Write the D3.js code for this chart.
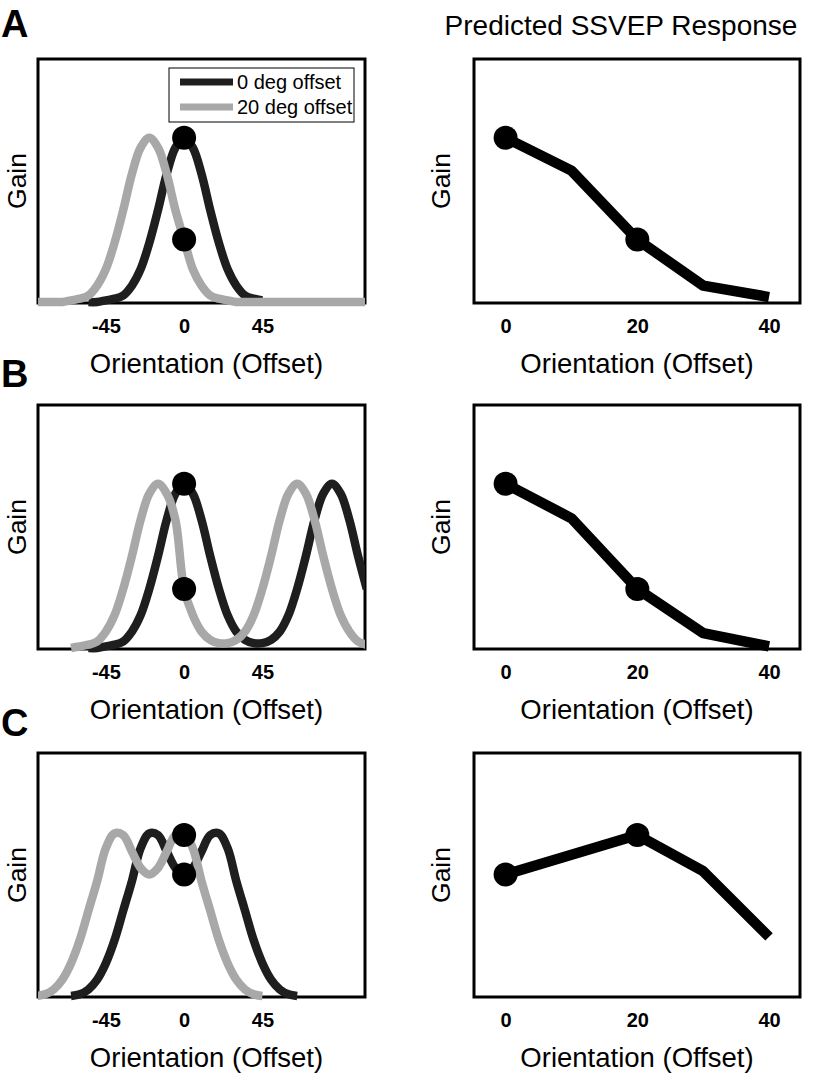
<!DOCTYPE html>
<html>
<head>
<meta charset="utf-8">
<script src="https://cdn.jsdelivr.net/npm/d3@7"></script>
<style>
  body { margin: 0; background: #fff; }
  svg { display: block; font-family: "Liberation Sans", Arial, Helvetica, sans-serif; }
</style>
</head>
<body>
<div id="chart"></div>
<script>
// orientation samples (deg) for the tuning curves
const orientations = [-85, -80, -75, -70, -65, -60, -55, -50, -45, -40, -35, -30, -25, -20, -15, -10, -5,
  0, 5, 10, 15, 20, 25, 30, 35, 40, 45, 50, 55, 60, 65, 70, 75, 80, 85, 90, 95, 100, 105];

// panel A: single peak
const gainA0 = [null, null, null, null, null, null, 0, 0, 0.01, 0.02, 0.04, 0.10, 0.20, 0.36, 0.56, 0.78, 0.94,
  1.00, 0.94, 0.78, 0.56, 0.36, 0.20, 0.10, 0.04, 0.02, 0.01, null, null, null, null, null, null, null, null, null, null, null, null];
const gainA20 = [0, 0, 0, 0, 0.01, 0.02, 0.04, 0.10, 0.20, 0.36, 0.56, 0.78, 0.94, 1.00, 0.94, 0.78, 0.56,
  0.38, 0.20, 0.10, 0.04, 0.02, 0.01, 0, 0, 0, 0, 0, 0, 0, 0, 0, 0, 0, 0, 0, 0, 0, 0];

// panel B: two peaks
const gainB0 = [null, null, null, null, null, null, 0, 0, 0.01, 0.02, 0.04, 0.10, 0.20, 0.36, 0.56, 0.78, 0.94,
  1.00, 0.94, 0.78, 0.56, 0.36, 0.20, 0.10, 0.05, 0.03, 0.03, 0.05, 0.10, 0.20, 0.36, 0.56, 0.78, 0.94, 1.00, 0.94, 0.78, 0.56, 0.36];
const gainB20 = [null, null, null, null, 0, 0.01, 0.02, 0.04, 0.10, 0.20, 0.36, 0.56, 0.78, 0.94, 1.00, 0.94, 0.78,
  0.36, 0.20, 0.10, 0.05, 0.03, 0.03, 0.05, 0.10, 0.20, 0.36, 0.56, 0.78, 0.94, 1.00, 0.94, 0.78, 0.56, 0.36, 0.20, 0.10, 0.04, 0.02];

// panel C: broad double-humped
const gainC0 = [null, null, null, null, 0, 0.01, 0.04, 0.10, 0.20, 0.34, 0.52, 0.70, 0.90, 0.99, 0.98, 0.88, 0.78,
  0.74, 0.78, 0.88, 0.98, 0.99, 0.90, 0.70, 0.52, 0.34, 0.20, 0.10, 0.04, 0.01, 0, null, null, null, null, null, null, null, null];
const gainC20 = [0, 0.01, 0.04, 0.10, 0.20, 0.34, 0.52, 0.70, 0.90, 0.99, 0.98, 0.88, 0.78, 0.74, 0.78, 0.88, 0.98,
  0.99, 0.90, 0.70, 0.52, 0.34, 0.20, 0.10, 0.04, 0.01, 0, null, null, null, null, null, null, null, null, null, null, null, null];

// predicted SSVEP response vs offset
const offsets = [0, 10, 20, 30, 40];
const respA = [1.00, 0.80, 0.38, 0.10, 0.03];
const respB = [1.00, 0.79, 0.36, 0.09, 0.01];
const respC = [0.74, 0.86, 0.98, 0.76, 0.36];
const dotOffsets = [0, 20];

const leftTicks = [-45, 0, 45];
const rightTicks = [0, 20, 40];
const legendLabels = ["0 deg offset", "20 deg offset"];

const panels = [
  { letter: "A", top: 59, g0: gainA0, g20: gainA20, resp: respA, legend: true },
  { letter: "B", top: 405, g0: gainB0, g20: gainB20, resp: respB, legend: false },
  { letter: "C", top: 753, g0: gainC0, g20: gainC20, resp: respC, legend: false },
];
const letterBase = [37, 387, 736];

const width = 815, height = 1074;
const frameH = 244;
const L = { x0: 38, x1: 365 };
const R = { x0: 474, x1: 800 };
const darkCol = "#1e1e1e", grayCol = "#a8a8a8";

const svg = d3.select("#chart").append("svg").attr("width", width).attr("height", height);

svg.append("text")
  .attr("x", 621).attr("y", 35)
  .attr("text-anchor", "middle")
  .style("font-size", "28px")
  .text("Predicted SSVEP Response");

const xL = d3.scaleLinear([-84, 104], [L.x0, L.x1]);
const xR = d3.scaleLinear([-4.8, 44.7], [R.x0, R.x1]);

function styleAxis(ax) {
  ax.select(".domain").remove();
  ax.selectAll("text")
    .style("font-size", "20px").style("font-weight", "bold")
    .style("font-family", "'Liberation Sans', Arial, sans-serif")
    .attr("fill", "#000");
}

panels.forEach((p, i) => {
  const y = d3.scaleLinear([0, 1.48], [p.top + 243, p.top]);
  const bottom = p.top + frameH;

  svg.append("text")
    .attr("x", 1).attr("y", letterBase[i])
    .style("font-size", "38px").style("font-weight", "bold")
    .text(p.letter);

  // ---- left: tuning curves ----
  const clipId = "clip" + i;
  svg.append("clipPath").attr("id", clipId)
    .append("rect")
    .attr("x", L.x0).attr("y", p.top - 20)
    .attr("width", L.x1 - L.x0).attr("height", frameH + 30);

  svg.append("rect")
    .attr("x", L.x0).attr("y", p.top)
    .attr("width", L.x1 - L.x0).attr("height", frameH)
    .attr("fill", "none").attr("stroke", "#000").attr("stroke-width", 3);

  const line = d3.line()
    .defined((d) => d[1] != null)
    .x((d) => xL(d[0]))
    .y((d) => y(d[1]))
    .curve(d3.curveCatmullRom);

  const curves = svg.append("g").attr("clip-path", `url(#${clipId})`);
  [[p.g0, darkCol], [p.g20, grayCol]].forEach(([gains, col]) => {
    curves.append("path")
      .datum(orientations.map((o, k) => [o, gains[k]]))
      .attr("d", line)
      .attr("fill", "none")
      .attr("stroke", col)
      .attr("stroke-width", 8.5);
  });

  svg.append("g").selectAll("circle")
    .data(dotOffsets)
    .join("circle")
    .attr("cx", xL(0))
    .attr("cy", (d) => y(p.resp[offsets.indexOf(d)]))
    .attr("r", 12)
    .attr("fill", "#000");

  svg.append("g")
    .attr("transform", `translate(0,${bottom})`)
    .call(d3.axisBottom(xL).tickValues(leftTicks).tickFormat((d) => String(d)).tickSize(0).tickPadding(16))
    .call(styleAxis);

  svg.append("text")
    .attr("x", (L.x0 + L.x1) / 2 + 5).attr("y", bottom + 70)
    .attr("text-anchor", "middle").style("font-size", "27.5px")
    .text("Orientation (Offset)");

  svg.append("text")
    .attr("transform", `translate(26,${p.top + frameH / 2}) rotate(-90)`)
    .attr("text-anchor", "middle").style("font-size", "26.5px")
    .text("Gain");

  if (p.legend) {
    const lg = svg.append("g");
    lg.append("rect")
      .attr("x", 169).attr("y", 68).attr("width", 185).attr("height", 54)
      .attr("fill", "#fff").attr("stroke", "#000").attr("stroke-width", 1);
    legendLabels.forEach((lab, k) => {
      const ly = 82 + k * 25;
      lg.append("line")
        .attr("x1", 180).attr("x2", 233).attr("y1", ly).attr("y2", ly)
        .attr("stroke", k === 0 ? darkCol : grayCol).attr("stroke-width", 7);
      lg.append("text")
        .attr("x", 237).attr("y", ly + 7)
        .style("font-size", "20px")
        .text(lab);
    });
  }

  // ---- right: predicted response ----
  svg.append("rect")
    .attr("x", R.x0).attr("y", p.top)
    .attr("width", R.x1 - R.x0).attr("height", frameH)
    .attr("fill", "none").attr("stroke", "#000").attr("stroke-width", 3);

  const rline = d3.line().x((d) => xR(d[0])).y((d) => y(d[1]));
  svg.append("path")
    .datum(offsets.map((o, k) => [o, p.resp[k]]))
    .attr("d", rline)
    .attr("fill", "none")
    .attr("stroke", "#000")
    .attr("stroke-width", 10.5)
    .attr("stroke-linejoin", "round");

  svg.append("g").selectAll("circle")
    .data(dotOffsets)
    .join("circle")
    .attr("cx", (d) => xR(d))
    .attr("cy", (d) => y(p.resp[offsets.indexOf(d)]))
    .attr("r", 12)
    .attr("fill", "#000");

  svg.append("g")
    .attr("transform", `translate(0,${bottom})`)
    .call(d3.axisBottom(xR).tickValues(rightTicks).tickFormat((d) => String(d)).tickSize(0).tickPadding(16))
    .call(styleAxis);

  svg.append("text")
    .attr("x", (R.x0 + R.x1) / 2).attr("y", bottom + 70)
    .attr("text-anchor", "middle").style("font-size", "27.5px")
    .text("Orientation (Offset)");

  svg.append("text")
    .attr("transform", `translate(450,${p.top + frameH / 2}) rotate(-90)`)
    .attr("text-anchor", "middle").style("font-size", "26.5px")
    .text("Gain");
});
</script>
</body>
</html>
